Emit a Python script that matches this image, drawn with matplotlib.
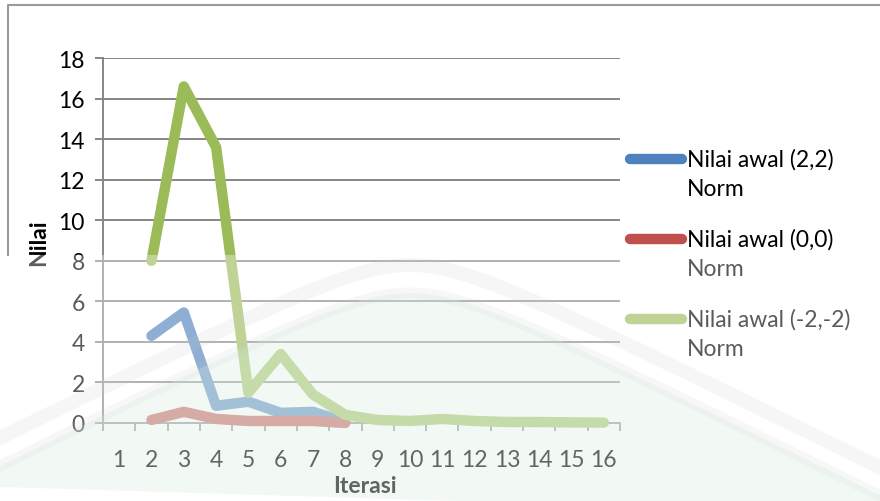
import numpy as np
import matplotlib
matplotlib.use("Agg")
import matplotlib.pyplot as plt
from matplotlib.lines import Line2D
from matplotlib.patches import Rectangle, Polygon

plt.rcParams['font.family'] = ['Lato', 'DejaVu Sans']

# Iteration numbers and the norm values for each starting point
iterasi = list(range(1, 17))
norm_22 = [None, 4.3, 5.45, 0.85, 1.05, 0.5, 0.55, 0.05]
norm_00 = [None, 0.15, 0.55, 0.2, 0.1, 0.1, 0.1, 0.0]
norm_m2 = [None, 8.0, 16.6, 13.6, 1.5, 3.4, 1.4, 0.4, 0.15, 0.1, 0.2, 0.1,
           0.05, 0.05, 0.03, 0.02]

labels = ["Nilai awal (2,2)\nNorm", "Nilai awal (0,0)\nNorm",
          "Nilai awal (-2,-2)\nNorm"]
colors = ["#4F81BD", "#C0504D", "#9BBB59"]
series = [norm_22, norm_00, norm_m2]

W, H = 880, 502
FS = 16.5
fig = plt.figure(figsize=(W / 100, H / 100), dpi=100)
fig.patch.set_facecolor("white")

def fx(px):
    return px / W

def fy(py):
    return 1 - py / H

ax = fig.add_axes([fx(103), fy(424), fx(620) - fx(103), fy(59) - fy(424)])
grid_c = "#868686"

for vals, c in zip(series, colors):
    xs = [x for x, v in zip(iterasi, vals) if v is not None]
    ys = [v for v in vals if v is not None]
    ax.plot(xs, ys, color=c, lw=7.5, solid_capstyle="round",
            solid_joinstyle="round", zorder=3, clip_on=False)

ax.set_xlim(0.5, 16.5)
ax.set_ylim(0, 18)
ax.set_yticks(np.arange(0, 19, 2))
ax.yaxis.grid(True, color=grid_c, lw=1.4)
ax.set_axisbelow(True)
for s in ["top", "right"]:
    ax.spines[s].set_visible(False)
for s in ["left", "bottom"]:
    ax.spines[s].set_color(grid_c)
    ax.spines[s].set_linewidth(1.4)

# category boundaries carry the tick marks, centres carry the labels
ax.set_xticks(np.arange(0.5, 17, 1))
ax.set_xticklabels([])
ax.set_xticks(iterasi, minor=True)
ax.set_xticklabels([str(i) for i in iterasi], minor=True)
ax.tick_params(axis="x", which="major", length=6, width=1.4, color=grid_c)
ax.tick_params(axis="x", which="minor", length=0, pad=19, labelsize=FS,
               labelcolor="#000000")
ax.tick_params(axis="y", length=6, width=1.4, color=grid_c, pad=7,
               labelsize=FS, labelcolor="#000000")

fig.text(fx(39), fy(243), "Nilai", rotation=90, ha="center", va="center",
         fontsize=FS, fontweight="bold", color="#000000")
fig.text(fx(365), fy(487), "Iterasi", ha="center", va="center",
         fontsize=FS, fontweight="bold", color="#000000")

# legend drawn beside the plot area
for i, (lab, c) in enumerate(zip(labels, colors)):
    yc = 160 + 80 * i
    fig.add_artist(Line2D([fx(630), fx(682)], [fy(yc), fy(yc)], color=c,
                          lw=7.5, solid_capstyle="round"))
    l1, l2 = lab.split("\n")
    fig.text(fx(687), fy(yc), l1, ha="left", va="center", fontsize=FS,
             color="#000000")
    fig.text(fx(687), fy(yc + 30), l2, ha="left", va="center", fontsize=FS,
             color="#000000")

# outer frame
ov = fig.add_axes([0, 0, 1, 1], zorder=10)
ov.set_xlim(0, W)
ov.set_ylim(H, 0)
ov.axis("off")
ov.patch.set_alpha(0)
ov.plot([8, 8, W + 5], [256, 6, 6], color="#9a9a9a", lw=1.5)

# faded stamp over the lower half
ov.add_patch(Rectangle((0, 256), W, 178, color="white", alpha=0.36, lw=0))
ov.add_patch(Rectangle((0, 434), W, H - 434, color="white", alpha=0.18,
                       lw=0))
xx = np.linspace(-40, 920, 200)
arch = 0.5 * (np.sqrt((xx - 410) ** 2 + 70 ** 2) - 70)
outer_y = 266 + arch
inner_y = 294 + arch
ov.add_patch(Polygon(np.column_stack([xx, inner_y]), closed=True,
                     color="#d6eedd", alpha=0.3, lw=0))
ov.plot(xx, outer_y, color="#c8c8c8", lw=10, alpha=0.15)
ov.plot(xx, inner_y, color="#c8c8c8", lw=8, alpha=0.13)

fig.savefig("out.png", dpi=100)
